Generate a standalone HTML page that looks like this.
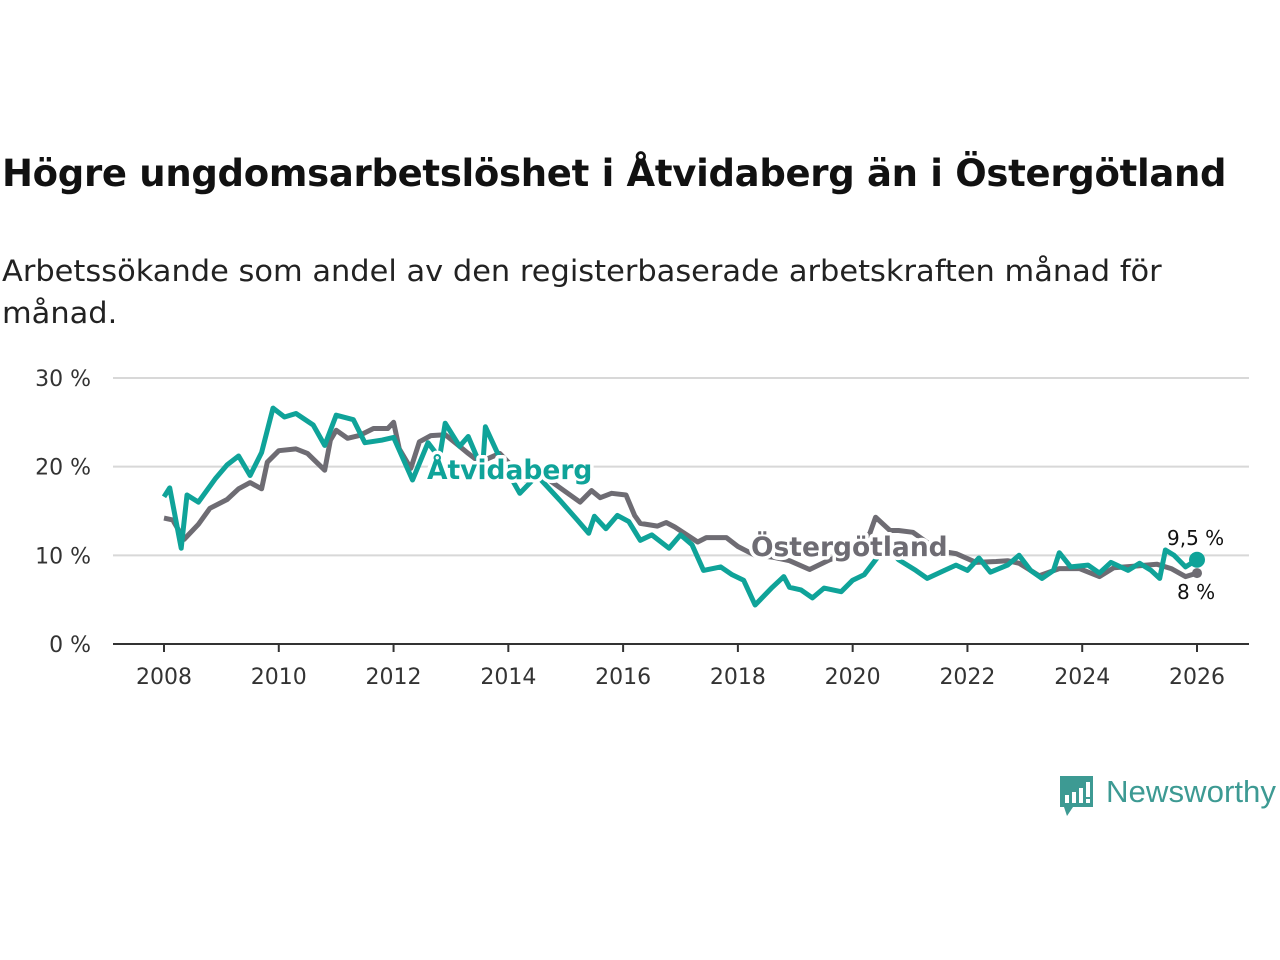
<!DOCTYPE html>
<html><head><meta charset="utf-8">
<style>
body{margin:0;width:1280px;height:960px;background:#fff;font-family:"Liberation Sans","DejaVu Sans",sans-serif;overflow:hidden;position:relative}
h1{position:absolute;left:2px;top:152px;margin:0;font-size:37px;font-weight:bold;color:#111;letter-spacing:-0.3px;font-family:"DejaVu Sans","Liberation Sans",sans-serif;transform:scaleX(1.0);transform-origin:left;white-space:nowrap}
.sub{position:absolute;left:2px;top:250px;margin:0;font-size:29px;line-height:42px;color:#222;width:1200px;font-family:"DejaVu Sans","Liberation Sans",sans-serif;transform:scaleX(1.05);transform-origin:left}
svg{position:absolute;left:0;top:0}
</style></head><body>
<h1>Högre ungdomsarbetslöshet i Åtvidaberg än i Östergötland</h1>
<p class="sub">Arbetssökande som andel av den registerbaserade arbetskraften månad för<br>månad.</p>
<svg id="chart" width="1280" height="960"></svg>
<script>
const yTicks=[0,10,20,30];
const xTicks=[2008,2010,2012,2014,2016,2018,2020,2022,2024,2026];
const atvYears=[2008,2008.1,2008.3,2008.4,2008.6,2008.9,2009.1,2009.3,2009.5,2009.7,2009.9,2010.1,2010.3,2010.6,2010.8,2011.0,2011.3,2011.5,2011.8,2012.0,2012.33,2012.6,2012.8,2012.9,2013.15,2013.3,2013.55,2013.6,2013.85,2014.2,2014.5,2014.9,2015.2,2015.4,2015.5,2015.7,2015.9,2016.1,2016.3,2016.5,2016.8,2017.0,2017.2,2017.4,2017.7,2017.9,2018.1,2018.3,2018.6,2018.8,2018.9,2019.1,2019.3,2019.5,2019.8,2020.0,2020.2,2020.4,2020.6,2020.8,2021.1,2021.3,2021.6,2021.8,2022.0,2022.2,2022.4,2022.7,2022.9,2023.1,2023.3,2023.5,2023.6,2023.8,2024.1,2024.3,2024.5,2024.8,2025.0,2025.2,2025.35,2025.45,2025.6,2025.8,2026.0];
const atvValues=[16.6,17.6,10.8,16.8,16,18.7,20.2,21.2,19,21.6,26.6,25.6,26,24.7,22.4,25.8,25.3,22.7,23,23.3,18.5,22.7,21,24.9,22.3,23.4,19.6,24.5,21,17,19,16.2,14,12.5,14.4,13,14.5,13.8,11.7,12.3,10.8,12.3,11.2,8.3,8.7,7.8,7.2,4.4,6.4,7.6,6.4,6.1,5.2,6.3,5.9,7.2,7.8,9.5,11,9.5,8.3,7.4,8.3,8.9,8.3,9.7,8.1,8.9,10,8.3,7.4,8.3,10.3,8.7,8.9,8,9.2,8.3,9.1,8.3,7.4,10.6,10,8.7,9.5];
const ostYears=[2008,2008.15,2008.35,2008.6,2008.8,2009.1,2009.3,2009.5,2009.7,2009.8,2010.0,2010.3,2010.5,2010.8,2010.9,2011.0,2011.2,2011.4,2011.65,2011.9,2012.0,2012.1,2012.3,2012.45,2012.65,2012.9,2013.15,2013.3,2013.5,2013.85,2014.3,2014.6,2015.25,2015.45,2015.6,2015.8,2016.05,2016.2,2016.3,2016.6,2016.75,2016.9,2017.3,2017.45,2017.8,2018.0,2018.3,2018.6,2018.9,2019.25,2019.6,2020.0,2020.3,2020.4,2020.65,2020.8,2021.05,2021.5,2021.8,2022.15,2022.5,2022.7,2022.9,2023.25,2023.6,2023.95,2024.3,2024.55,2024.95,2025.3,2025.55,2025.8,2026.0];
const ostValues=[14.2,14,11.8,13.5,15.3,16.3,17.5,18.2,17.5,20.5,21.8,22,21.5,19.6,23,24.1,23.2,23.5,24.3,24.3,25,22,19.8,22.8,23.5,23.6,22.3,21.5,20.5,21.5,18.5,19,16,17.3,16.5,17,16.8,14.5,13.6,13.3,13.7,13.2,11.5,12,12,11,10,9.8,9.4,8.4,9.5,10.5,12.5,14.3,12.8,12.8,12.6,10.5,10.2,9.2,9.3,9.4,9.1,7.7,8.5,8.5,7.6,8.6,8.8,9,8.5,7.6,8];
const NS="http://www.w3.org/2000/svg";
const svg=document.getElementById('chart');
const X0=113,X1=1249;
function xs(y){return 164+(y-2008)*(1197-164)/18;}
function ys(v){return 644-v*(644-378)/30;}
function el(t,a,p){const e=document.createElementNS(NS,t);for(const k in a)e.setAttribute(k,a[k]);(p||svg).appendChild(e);return e;}
yTicks.forEach(v=>{
 const g=el('line',{x1:X0,x2:X1,y1:ys(v),y2:ys(v),stroke:v===0?'#333':'#d8d8d8','stroke-width':2});
 
 
 const t=el('text',{x:91,y:ys(v)+8,'text-anchor':'end','font-size':22,fill:'#333','font-family':'DejaVu Sans, Liberation Sans, sans-serif'});
 t.textContent=v+' %';
 
 
});
xTicks.forEach(yr=>{
 const l=el('line',{x1:xs(yr),x2:xs(yr),y1:644,y2:652,stroke:'#333','stroke-width':2});
 
 
 const t=el('text',{x:xs(yr),y:684,'text-anchor':'middle','font-size':22,fill:'#333','font-family':'DejaVu Sans, Liberation Sans, sans-serif'});
 t.textContent=yr;
 
 
});
function line(years,vals,color,name){
 const d=years.map((y,i)=>(i?'L':'M')+xs(y).toFixed(1)+','+ys(vals[i]).toFixed(1)).join('');
 const p=el('path',{d:d,fill:'none',stroke:color,'stroke-width':5,'stroke-linejoin':'round'});
 
 
}
line(ostYears,ostValues,'#6e6c73','ostergotland-line');
line(atvYears,atvValues,'#0fa399','atvidaberg-line');
function lbl(x,y,txt,color,name,size,bold){
 const t=el('text',{x:x,y:y,'font-size':size,'font-weight':bold?'bold':'normal',fill:color,stroke:'#fff','stroke-width':bold?7:5,'paint-order':'stroke','stroke-linejoin':'round','font-family':'DejaVu Sans, Liberation Sans, sans-serif'});
 t.textContent=txt;
 
 
}
lbl(427,479,'Åtvidaberg','#0fa399','atvidaberg-label',26.5,true);
lbl(751,556,'Östergötland','#6e6c73','ostergotland-label',26.5,true);
const dot1=el('circle',{cx:xs(2026),cy:ys(ostValues[ostValues.length-1]),r:5,fill:'#6e6c73'});


const dot2=el('circle',{cx:xs(2026),cy:ys(atvValues[atvValues.length-1]),r:8,fill:'#0fa399'});


lbl(1167,545,'9,5 %','#111','atvidaberg-end-value',20,false);
lbl(1177,599,'8 %','#111','ostergotland-end-value',20,false);
</script>
<svg width="1280" height="960" style="pointer-events:none">
 <path d="M1060 776h33v31h-20l-6 9-3-9h-4z" fill="#3d9a93"/>
 <rect x="1065" y="795" width="4" height="8" fill="#fff"/><rect x="1072" y="792" width="4" height="11" fill="#fff"/><rect x="1079" y="788" width="4" height="15" fill="#fff"/><rect x="1086" y="782" width="4" height="15" fill="#fff"/><rect x="1086" y="799" width="4" height="4" fill="#fff"/>
 <text x="1106" y="802" font-size="31" fill="#3d9a93" font-family="Liberation Sans, sans-serif" textLength="170" lengthAdjust="spacingAndGlyphs">Newsworthy</text>
</svg>
</body></html>
